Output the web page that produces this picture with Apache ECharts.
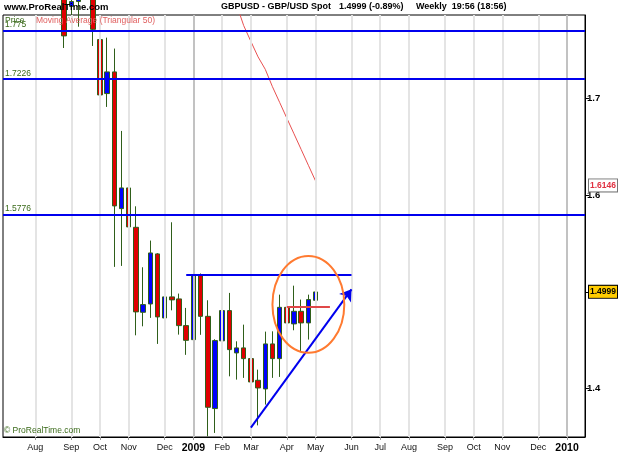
<!DOCTYPE html>
<html><head><meta charset="utf-8">
<script src="https://cdn.jsdelivr.net/npm/echarts@6/dist/echarts.min.js"></script>
<style>html,body{margin:0;padding:0;background:#fff}#c{width:625px;height:469px}</style>
</head><body><div id="c"></div>
<script>
// Weekly bars (Sunday dates)
const weeks = [
 '2008-07-06','2008-07-13','2008-07-20','2008-07-27',
 '2008-08-03','2008-08-10','2008-08-17','2008-08-24','2008-08-31',
 '2008-09-07','2008-09-14','2008-09-21','2008-09-28',
 '2008-10-05','2008-10-12','2008-10-19','2008-10-26',
 '2008-11-02','2008-11-09','2008-11-16','2008-11-23','2008-11-30',
 '2008-12-07','2008-12-14','2008-12-21','2008-12-28',
 '2009-01-04','2009-01-11','2009-01-18','2009-01-25',
 '2009-02-01','2009-02-08','2009-02-15','2009-02-22',
 '2009-03-01','2009-03-08','2009-03-15','2009-03-22','2009-03-29',
 '2009-04-05','2009-04-12','2009-04-19','2009-04-26',
 '2009-05-03','2009-05-10','2009-05-17','2009-05-24','2009-05-31',
 '2009-06-07','2009-06-14','2009-06-21','2009-06-28',
 '2009-07-05','2009-07-12','2009-07-19','2009-07-26',
 '2009-08-02','2009-08-09','2009-08-16','2009-08-23','2009-08-30',
 '2009-09-06','2009-09-13','2009-09-20','2009-09-27',
 '2009-10-04','2009-10-11','2009-10-18','2009-10-25',
 '2009-11-01','2009-11-08','2009-11-15','2009-11-22','2009-11-29',
 '2009-12-06','2009-12-13','2009-12-20','2009-12-27',
 '2010-01-03','2010-01-10','2010-01-17'
];
const monthNames = ['Jan','Feb','Mar','Apr','May','Jun','Jul','Aug','Sep','Oct','Nov','Dec'];

const opens  = [null,null,null,null,null,null,null,null,
 1.810,1.795,1.800,1.840,1.845,1.7607,1.7049,1.7273,1.5860,1.6074,1.5667,1.4789,1.4875,1.5392,
 1.4730,1.4948,1.4927,1.4651,1.4506,1.5178,1.4747,1.3794,1.4494,1.4806,1.4369,1.4421,
 1.4310,1.4086,1.3997,1.4462,1.4310,1.4840,1.4669,1.4799,1.4679,1.4913];
const closes = [null,null,null,null,null,null,null,null,
 1.7645,1.800,1.825,1.845,1.7713,1.7035,1.7273,1.5888,1.6074,1.5671,1.4793,1.4868,1.5402,1.4741,
 1.4948,1.4917,1.4651,1.4499,1.5168,1.4747,1.3807,1.4496,1.4806,1.4403,1.4421,1.4310,
 1.4069,1.4007,1.4462,1.4310,1.4840,1.4679,1.4799,1.4679,1.4920,1.4999];
const lows   = [null,null,null,null,null,null,null,null,
 1.752,1.7434,1.774,1.800,1.7541,1.6773,1.6911,1.5258,1.5268,1.5533,1.4551,1.4644,1.4731,1.4462,
 1.4672,1.4809,1.4558,1.4349,1.4431,1.4556,1.3507,1.3542,1.4052,1.4127,1.4093,1.4111,
 1.3980,1.3620,1.3835,1.4111,1.4121,1.4569,1.4603,1.4386,1.4507,1.4858];
const highs  = [null,null,null,null,null,null,null,null,
 1.825,1.815,1.840,1.870,1.850,1.7703,1.7627,1.7514,1.6663,1.6394,1.5884,1.5254,1.5530,1.5400,
 1.5116,1.5719,1.4982,1.4834,1.5374,1.5190,1.4913,1.4510,1.4989,1.4989,1.4489,1.4661,
 1.4465,1.4196,1.4589,1.4592,1.4971,1.4971,1.5064,1.4920,1.4971,1.5196];
// Moving Average (Triangular 50)
const ma50 = [null,null,null,null,null,null,null,null,null,null,null,null,null,null,null,null,
 null,null,null,null,null,null,null,null,null,null,null,null,null,null,null,
 1.820,1.797,1.7751,1.7588,1.7428,1.7300,1.7120,1.6958,1.6795,1.6633,1.6471,1.6308,1.6146];

// Drawn annotations (price levels)
const levelValues = [1.775, 1.7226, 1.5776];
const levelLabels = ['1.775', '1.7226', '1.5776'];
const resistWeeks = [25, 48];   const resistValue = 1.5178;
const supportWeeks = [39, 45];  const supportValue = 1.4847;
const trendWeeks = [34, 48];    const trendValues = [1.3597, 1.5026];
const ellipseWeeks = [37, 47];  const ellipseValues = [1.437, 1.537];

const FONT = "'Liberation Sans', Arial, sans-serif";
const GREEN = '#3a6a1a';
const isMonthStart = (i, v) => i > 0 && +v.slice(8, 10) <= 7;

const candleData = opens.map((o, i) => o == null ? '-' : [o, closes[i], lows[i], highs[i]]);
const maData = ma50.map(v => v == null ? '-' : v);
const lastClose = closes[closes.length - 1];
const lastMA = ma50[ma50.length - 1];

const gridLineData = weeks.filter((w, i) => isMonthStart(i, w)).map(w => ({
  xAxis: w,
  lineStyle: { color: w.slice(5, 7) === '01' ? '#c2c2c2' : '#e4e4e4', width: 2, type: 'solid' }
}));

const noLbl = { show: false };
const hidden = { color: 'rgba(0,0,0,0)', width: 0 };
const T = (text, left, top, size, weight, color) =>
  ({ text, left, top, padding: 0, textStyle: { fontSize: size, fontWeight: weight, color, fontFamily: FONT } });

const chart = echarts.init(document.getElementById('c'), null, { renderer: 'canvas' });
const option = {
  animation: false,
  backgroundColor: '#fff',
  textStyle: { fontFamily: FONT },
  grid: { left: 3, right: 40, top: 15, bottom: 32, show: true, borderColor: '#000', borderWidth: 1 },
  title: [
    T('www.ProRealTime.com', 4, 2, 9.5, 'bold', '#000'),
    T('GBPUSD - GBP/USD Spot', 221, 2, 9, 'bold', '#000'),
    T(lastClose.toFixed(4) + ' (-0.89%)', 339, 2, 9, 'bold', '#000'),
    T('Weekly  19:56 (18:56)', 416, 2, 9, 'bold', '#000'),
    T('Price', 5, 16, 8.5, 'normal', GREEN),
    T('Moving Average (Triangular 50)', 36, 16, 8.5, 'normal', '#e06060'),
    T('© ProRealTime.com', 4, 426, 8.5, 'normal', GREEN)
  ],
  xAxis: {
    type: 'category', data: weeks, boundaryGap: true,
    axisLine: { show: true, lineStyle: { color: '#000', width: 1 } },
    axisTick: { show: true, alignWithLabel: true, interval: isMonthStart, length: 3, lineStyle: { color: '#999' } },
    axisLabel: {
      interval: isMonthStart, margin: 6, fontSize: 9, color: '#111', fontFamily: FONT,
      formatter: v => v.slice(5, 7) === '01' ? '{y|' + v.slice(0, 4) + '}' : monthNames[+v.slice(5, 7) - 1],
      rich: { y: { fontSize: 10.5, fontWeight: 'bold', color: '#000', fontFamily: FONT } }
    },
    splitLine: { show: false }
  },
  yAxis: {
    type: 'value', position: 'right', min: 1.35, max: 1.7861,
    axisLine: { show: true, lineStyle: { color: '#000' } },
    axisTick: { show: true, length: 4, lineStyle: { color: '#000' } },
    axisLabel: {
      fontSize: 9.5, fontWeight: 'bold', color: '#000', margin: 2, fontFamily: FONT,
      showMinLabel: false, showMaxLabel: false,
      formatter: v => Math.abs(v - 1.5) < 1e-6 ? '' : v.toFixed(1)
    },
    splitLine: { show: false }
  },
  series: [
    { // month gridlines
      type: 'line', z: 1, data: [], silent: true,
      markLine: { silent: true, symbol: ['none', 'none'], label: noLbl, data: gridLineData }
    },
    {
      type: 'candlestick', name: 'GBPUSD', z: 2, barWidth: 5, data: candleData,
      itemStyle: { color: '#0000ff', color0: '#e00000', borderColor: '#2f5f1a', borderColor0: '#2f5f1a', borderWidth: 1 }
    },
    {
      type: 'line', name: 'MA', z: 3, data: maData, symbol: 'none', showSymbol: false,
      lineStyle: { color: '#e85050', width: 1 }, clip: true
    },
    { // annotations
      type: 'line', z: 4, data: [], silent: true, clip: false,
      markLine: {
        silent: true, symbol: ['none', 'none'],
        data: [
          ...levelValues.map((v, k) => ({
            yAxis: v, lineStyle: { color: '#0000ee', width: 2, type: 'solid' },
            label: { show: true, position: 'insideStartTop', distance: [2, 1], formatter: levelLabels[k], color: GREEN, fontSize: 8.5, fontFamily: FONT }
          })),
          [{ coord: [resistWeeks[0], resistValue], lineStyle: { color: '#0000ee', width: 2, type: 'solid' }, label: noLbl },
           { coord: [resistWeeks[1], resistValue] }],
          [{ coord: [supportWeeks[0], supportValue], lineStyle: { color: '#e04848', width: 2, type: 'solid' }, label: noLbl },
           { coord: [supportWeeks[1], supportValue] }],
          [{ coord: [trendWeeks[0], trendValues[0]], symbol: 'none', lineStyle: { color: '#0000ee', width: 2, type: 'solid' }, label: noLbl },
           { coord: [trendWeeks[1], trendValues[1]], symbol: 'arrow', symbolSize: 11 }],
          { yAxis: lastClose, lineStyle: hidden,
            label: { show: true, position: 'end', distance: 4, formatter: lastClose.toFixed(4), color: '#000', fontWeight: 'bold', fontSize: 8.5, fontFamily: FONT,
                     backgroundColor: '#ffcc00', borderColor: '#000', borderWidth: 1, padding: [2, 1, 1, 1] } },
          { yAxis: lastMA, lineStyle: hidden,
            label: { show: true, position: 'end', distance: 4, formatter: lastMA.toFixed(4), color: '#e03040', fontWeight: 'bold', fontSize: 8.5, fontFamily: FONT,
                     backgroundColor: '#fff', borderColor: '#777', borderWidth: 1, padding: [2, 1, 1, 1] } }
        ]
      }
    }
  ]
};
chart.setOption(option);

// orange ellipse annotation, positioned through the chart's own scales
const p0 = chart.convertToPixel({ gridIndex: 0 }, [ellipseWeeks[0], ellipseValues[0]]);
const p1 = chart.convertToPixel({ gridIndex: 0 }, [ellipseWeeks[1], ellipseValues[1]]);
chart.setOption({
  graphic: [{
    type: 'ellipse', z: 100, silent: true,
    shape: { cx: (p0[0] + p1[0]) / 2, cy: (p0[1] + p1[1]) / 2, rx: Math.abs(p1[0] - p0[0]) / 2, ry: Math.abs(p1[1] - p0[1]) / 2 },
    style: { fill: 'none', stroke: '#ff7a30', lineWidth: 2 }
  }]
});
</script>
</body></html>
